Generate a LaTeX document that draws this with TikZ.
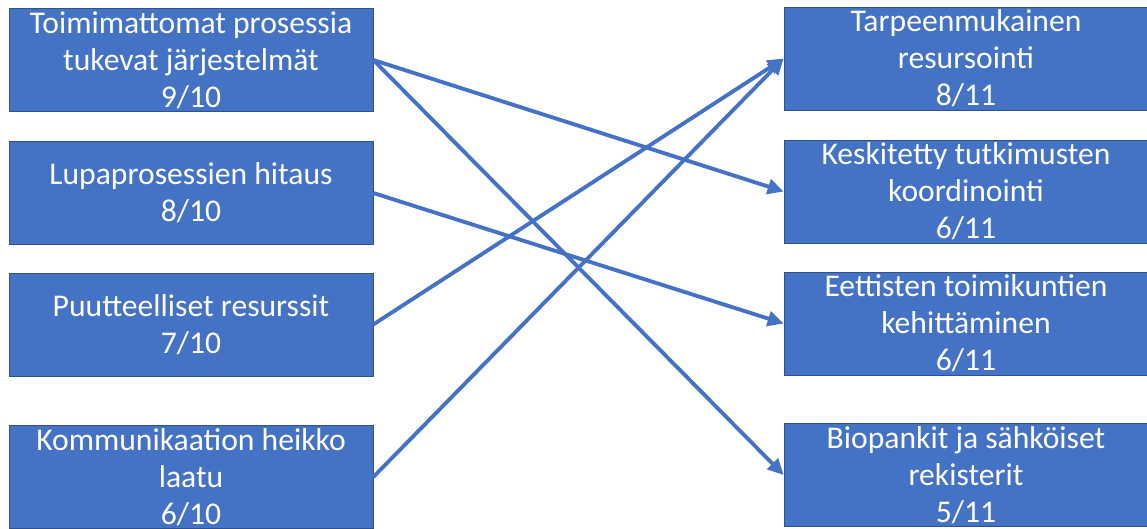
\documentclass[tikz,border=0pt]{standalone}
\usepackage{fontspec}
\setmainfont{Carlito}
\usetikzlibrary{arrows.meta}

\definecolor{laatikko}{HTML}{4472C4}
\definecolor{reuna}{HTML}{2F528F}

\tikzset{
    box/.style={fill=laatikko, draw=reuna, line width=0.4pt, text=white,
        minimum width=7.28cm, minimum height=2.06cm, inner sep=0pt,
        align=center,
        font=\fontsize{18}{21}\selectfont},
    nuoli/.style={laatikko, line width=2.2pt,
        -{Triangle[length=0.32cm, width=0.3cm]}}
}

\begin{document}
\begin{tikzpicture}[x=0.02cm, y=-0.02cm]
    % Frame
    \useasboundingbox (0,0) rectangle (1147,528);

    % Left column: problems
    \node[box] (syy1) at (191,60) {Toimimattomat prosessia\\tukevat järjestelmät\\9/10};
    \node[box] (syy2) at (191,193) {Lupaprosessien hitaus\\8/10};
    \node[box] (syy3) at (191,324.5) {Puutteelliset resurssit\\7/10};
    \node[box] (syy4) at (191,477) {Kommunikaation heikko\\laatu\\6/10};

    % Right column: solutions
    \node[box] (ratk1) at (966,58.5) {Tarpeenmukainen\\resursointi\\8/11};
    \node[box] (ratk2) at (966,191.5) {Keskitetty tutkimusten\\koordinointi\\6/11};
    \node[box] (ratk3) at (966,323.5) {Eettisten toimikuntien\\kehittäminen\\6/11};
    \node[box] (ratk4) at (966,475) {Biopankit ja sähköiset\\rekisterit\\5/11};

    % Arrows
    \foreach \a/\b in {syy1/ratk2, syy1/ratk4, syy2/ratk3, syy3/ratk1, syy4/ratk1} {
        \draw[nuoli] (\a.east) -- (\b.west);
    }

\end{tikzpicture}
\end{document}
